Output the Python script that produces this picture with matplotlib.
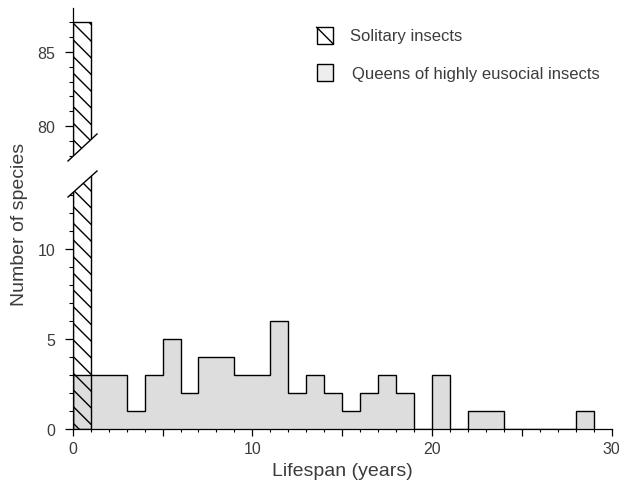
import matplotlib
matplotlib.use('Agg')
import matplotlib.pyplot as plt
from matplotlib.patches import Rectangle, Polygon
from matplotlib.lines import Line2D
from matplotlib.ticker import MultipleLocator

# histogram data (1-year bins)
bin_edges = list(range(0, 30))
queens = [3, 3, 3, 1, 3, 5, 2, 4, 4, 3, 3, 6, 2, 3, 2, 1, 2, 3, 2, 0,
          3, 0, 1, 1, 0, 0, 0, 0, 1]
solitary_left = [0]
solitary = [87]

x_ticks = [0, 5, 10, 15, 20, 25, 30]
x_labels = ['0', '', '10', '', '20', '', '30']
legend_labels = ['Solitary insects', 'Queens of highly eusocial insects']

W, H = 619, 481
plt.rcParams['font.family'] = ['Liberation Sans', 'DejaVu Sans']
txt = '#3c3c3c'
bar_grey = '#dddddd'

fig = plt.figure(figsize=(W / 100, H / 100), dpi=100)


def fx(px):
    return px / W


def fy(py):
    return 1 - py / H


# axes placed in pixels: left/right, and bottom/top of each panel
left, right = 72.7, 611.7
ax_lo = fig.add_axes([fx(left), fy(430), fx(right - left), (430 - 169) / H])
ax_hi = fig.add_axes([fx(left), fy(164.6), fx(right - left), (164.6 - 9.4) / H])

for ax in (ax_lo, ax_hi):
    ax.set_facecolor('none')
    ax.stairs(queens, bin_edges, fill=True, facecolor=bar_grey,
              edgecolor='black', linewidth=1.0, zorder=1)
    ax.bar(solitary_left, solitary, width=1, align='edge', facecolor='none',
           edgecolor='black', hatch='\\\\', linewidth=1.0, zorder=2)
    ax.set_xlim(0, 30)
    ax.spines['top'].set_visible(False)
    ax.spines['right'].set_visible(False)
    ax.spines['left'].set_linewidth(0.9)
    ax.spines['bottom'].set_linewidth(0.9)
    ax.yaxis.set_minor_locator(MultipleLocator(1))
    ax.tick_params(axis='y', which='major', length=5.8, width=0.9,
                   pad=6.5, labelsize=11.5, labelcolor=txt)
    ax.tick_params(axis='y', which='minor', length=2.9, width=0.8)

ax_lo.set_ylim(0, 14.5)
ax_lo.set_yticks([0, 5, 10])
ax_lo.set_xticks(x_ticks, labels=x_labels)
ax_lo.xaxis.set_minor_locator(MultipleLocator(1))
ax_lo.tick_params(axis='x', which='major', length=5, width=0.9, pad=4,
                  labelsize=11.5, labelcolor=txt)
ax_lo.tick_params(axis='x', which='minor', length=2.5, width=0.8)
ax_lo.set_xlabel('Lifespan (years)', fontsize=14, color=txt, labelpad=4)

ax_hi.set_ylim(77.5, 87.9)
ax_hi.set_yticks([80, 85])
ax_hi.spines['bottom'].set_visible(False)
ax_hi.set_xticks([])

fig.text(fx(20), fy(224), 'Number of species', rotation=90, fontsize=14,
         color=txt, ha='center', va='center')

# axis break: white gap between two slanted lines
gap = Polygon([(fx(67), fy(163)), (fx(98), fy(134)), (fx(98), fy(171)),
               (fx(67), fy(199))], closed=True, transform=fig.transFigure,
              facecolor='white', edgecolor='none', zorder=5)
fig.patches.append(gap)
for (x0, y0), (x1, y1) in [((68, 162), (97, 135)), ((68, 198), (97, 172))]:
    fig.lines.append(Line2D([fx(x0), fx(x1)], [fy(y0), fy(y1)],
                            transform=fig.transFigure, color='black',
                            linewidth=1.0, zorder=6))

# legend
fig.patches.append(Rectangle((fx(316.7), fy(45)), 16.6 / W, 16.7 / H,
                             transform=fig.transFigure, facecolor='white',
                             edgecolor='black', linewidth=1.0, zorder=6))
fig.lines.append(Line2D([fx(316.7), fx(333.3)], [fy(28.3), fy(45)],
                        transform=fig.transFigure, color='black',
                        linewidth=1.0, zorder=7))
fig.patches.append(Rectangle((fx(316.7), fy(82.3)), 16.6 / W, 17.3 / H,
                             transform=fig.transFigure, facecolor='#eeeeee',
                             edgecolor='black', linewidth=1.0, zorder=6))
fig.text(fx(350), fy(40.5), legend_labels[0], fontsize=12, color=txt,
         va='baseline', ha='left')
fig.text(fx(351.5), fy(78.5), legend_labels[1], fontsize=12, color=txt,
         va='baseline', ha='left')

fig.savefig('out.png', dpi=100)
